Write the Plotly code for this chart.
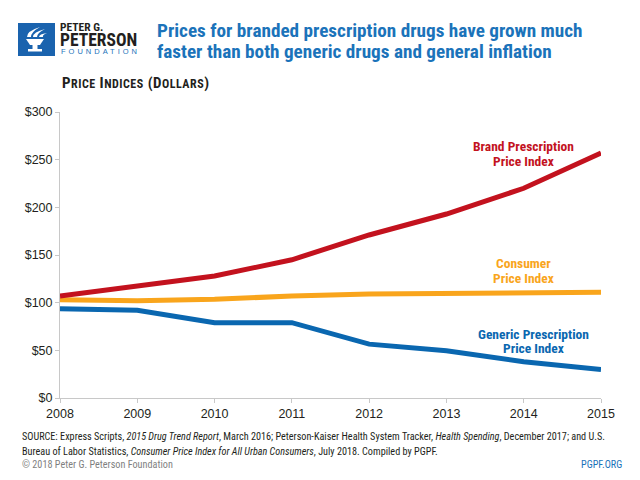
import plotly.graph_objects as go

years = [2008, 2009, 2010, 2011, 2012, 2013, 2014, 2015]
brand = [107, 117, 128, 145, 171, 193, 220, 257]
cpi = [103, 102, 103.5, 107, 109, 110, 111, 111]
generic = [93.5, 92, 79, 79, 56.5, 49.5, 38, 30]
y_ticks = [0, 50, 100, 150, 200, 250, 300]
y_tick_labels = ["$0", "$50", "$100", "$150", "$200", "$250", "$300"]
x_tick_labels = [str(y) for y in years]

RED = "#c3121e"
ORANGE = "#f9a51c"
BLUE = "#0a67b0"
TITLE_BLUE = "#1b73ba"
DARK = "#231f20"
COND = "Roboto Condensed, DejaVu Sans Condensed, sans-serif"
SANS = "Liberation Sans, Arial, sans-serif"

fig = go.Figure()
fig.add_trace(go.Scatter(x=years, y=generic, mode="lines", line=dict(color=BLUE, width=5), hoverinfo="skip"))
fig.add_trace(go.Scatter(x=years, y=cpi, mode="lines", line=dict(color=ORANGE, width=5), hoverinfo="skip"))
fig.add_trace(go.Scatter(x=years, y=brand, mode="lines", line=dict(color=RED, width=5), hoverinfo="skip"))

W, H = 640, 480
L, R, T, B = 60, 39, 112, 82
pw, ph = W - L - R, H - T - B


def px(x):
    return (x - L) / pw


def py(y):
    return (H - B - y) / ph


ann = []


def text(x, y, s, size, color, family=COND, xanchor="left", yanchor="middle"):
    ann.append(dict(x=px(x), y=py(y), xref="paper", yref="paper", xanchor=xanchor, yanchor=yanchor,
                    text=s, showarrow=False, font=dict(family=family, size=size, color=color)))


def line_label(cx, baseline, s, size, color):
    text(cx, baseline - 0.36 * size, "<b>" + s + "</b>", size, color, xanchor="center")


# line labels
LS = 13.5
line_label(523.5, 151, "Brand Prescription", LS, RED)
line_label(523.5, 166, "Price Index", LS, RED)
line_label(523, 268, "Consumer", LS, ORANGE)
line_label(523, 283, "Price Index", LS, ORANGE)
line_label(533, 339, "Generic Prescription", LS, BLUE)
line_label(533, 353, "Price Index", LS, BLUE)

# title
TS = 19.2
text(155, 37 - 0.36 * TS, "<b>Prices for branded prescription drugs have grown much</b>", TS, TITLE_BLUE)
text(155, 58 - 0.36 * TS, "<b>faster than both generic drugs and general inflation</b>", TS, TITLE_BLUE)

# subtitle in small caps
text(60, 88 - 0.36 * 15,
     "<b><span style='letter-spacing:0.5px'>P<span style='font-size:12px'>RICE</span> I<span style='font-size:12px'>NDICES</span> (D<span style='font-size:12px'>OLLARS</span>)</span></b>",
     15, DARK)

# logo text
text(58, 31 - 0.36 * 11.5, "<b>PETER G.</b>", 11.5, DARK)
text(58, 46 - 0.36 * 17.5, "<b>PETERSON</b>", 17.5, DARK)
text(59, 54 - 0.36 * 7.5, "<span style='letter-spacing:3px'>FOUNDATION</span>", 7.5, TITLE_BLUE, family=SANS)

# footer
FS = 10.2
text(20, 437, "SOURCE: Express Scripts, <i>2015 Drug Trend Report</i>, March 2016; Peterson-Kaiser Health System Tracker, <i>Health Spending</i>, December 2017; and U.S.",
     FS, DARK)
text(20, 451, "Bureau of Labor Statistics, <i>Consumer Price Index for All Urban Consumers</i>, July 2018. Compiled by PGPF.",
     FS, DARK)
text(20, 465, "© 2018 Peter G. Peterson Foundation", FS, "#7f7f7f")
text(624, 465, "PGPF.ORG", FS, TITLE_BLUE, xanchor="right")


def P(x, y):
    return f"{px(x)},{py(y)}"


shapes = [
    dict(type="rect", xref="paper", yref="paper", x0=px(18), x1=px(55), y0=py(23), y1=py(56),
         fillcolor="#1a63ae", line=dict(width=0), layer="above"),
    # torch bowl
    dict(type="path", xref="paper", yref="paper",
         path=f"M {P(26, 39)} L {P(44, 39)} L {P(40, 45)} L {P(30, 45)} Z",
         fillcolor="white", line=dict(width=0), layer="above"),
    dict(type="rect", xref="paper", yref="paper", x0=px(32.5), x1=px(37.5), y0=py(45), y1=py(49),
         fillcolor="white", line=dict(width=0), layer="above"),
    dict(type="rect", xref="paper", yref="paper", x0=px(28), x1=px(42), y0=py(49), y1=py(51.5),
         fillcolor="white", line=dict(width=0), layer="above"),
    # flames
    dict(type="path", xref="paper", yref="paper",
         path=f"M {P(27, 37)} Q {P(27, 31)} {P(40, 27)} Q {P(31, 32)} {P(31, 37)} Z",
         fillcolor="white", line=dict(width=0), layer="above"),
    dict(type="path", xref="paper", yref="paper",
         path=f"M {P(33, 37)} Q {P(33, 32)} {P(45, 29)} Q {P(37, 33)} {P(37, 37)} Z",
         fillcolor="white", line=dict(width=0), layer="above"),
    dict(type="path", xref="paper", yref="paper",
         path=f"M {P(39, 37)} Q {P(39, 34)} {P(47, 33)} Q {P(42, 35)} {P(43, 37)} Z",
         fillcolor="white", line=dict(width=0), layer="above"),
]

fig.update_layout(
    width=W, height=H, margin=dict(l=L, r=R, t=T, b=B),
    paper_bgcolor="white", plot_bgcolor="white", showlegend=False,
    annotations=ann, shapes=shapes,
    xaxis=dict(range=[2008, 2015], tickvals=years, ticktext=x_tick_labels,
               showgrid=False, zeroline=False, showline=True, linecolor="#c8c8c8", linewidth=1,
               ticks="outside", ticklen=4, tickcolor="#c8c8c8",
               tickfont=dict(family=SANS, size=12.5, color=DARK)),
    yaxis=dict(range=[0, 300], tickvals=y_ticks, ticktext=y_tick_labels,
               showgrid=False, zeroline=False, showline=True, linecolor="#c8c8c8", linewidth=1,
               ticks="outside", ticklen=4, tickcolor="#c8c8c8",
               tickfont=dict(family=SANS, size=12.5, color=DARK)),
)

fig.write_html("out.html", config={"displayModeBar": False},
               post_script="document.body.style.margin='0';document.body.style.overflow='hidden';")
